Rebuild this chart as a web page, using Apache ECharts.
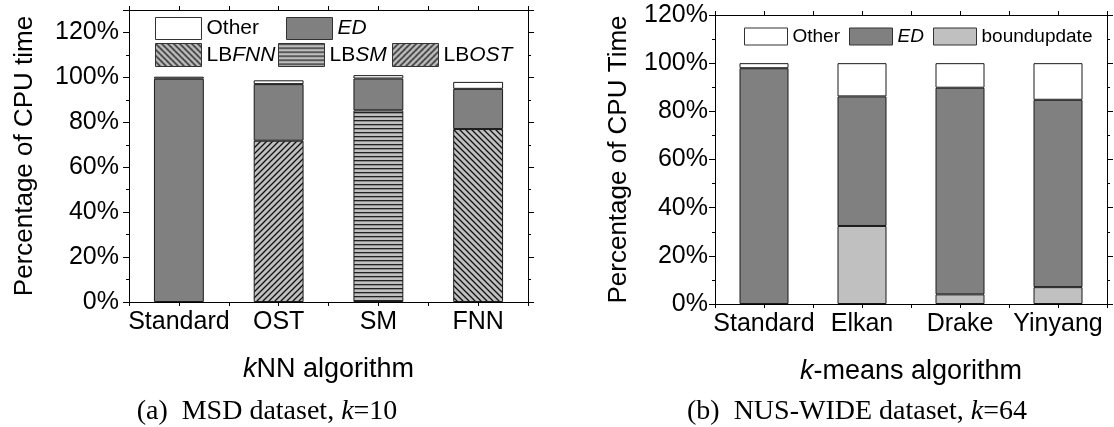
<!DOCTYPE html>
<html><head><meta charset="utf-8">
<script src="https://cdn.jsdelivr.net/npm/echarts@6/dist/echarts.min.js"></script>
<style>html,body{margin:0;padding:0;background:#fff}#c{width:1114px;height:427px}</style>
</head><body><div id="c"></div>
<script>
// ---------- data ----------
const knnCategories = ['Standard', 'OST', 'SM', 'FNN'];
const knnLbFnn = [null, null, null, 77.0];
const knnLbSm  = [null, null, 85.3, null];
const knnLbOst = [null, 71.8, null, null];
const knnEd    = [99.4, 25.2, 14.2, 17.9];
const knnOther = [0.9, 1.7, 1.5, 3.1];

const kmCategories = ['Standard', 'Elkan', 'Drake', 'Yinyang'];
const kmBound = [null, 32.4, 4.0, 7.0];
const kmEd    = [97.9, 53.8, 85.8, 77.8];
const kmOther = [2.1, 13.8, 10.2, 15.2];

const yTickFormat = '{value}%';

// ---------- styles ----------
const SANS = '"Liberation Sans", Arial, sans-serif';
const SERIF = '"Liberation Serif", "Times New Roman", serif';
const BLACK = '#000';

function makeTile(kind) {
  const c = document.createElement('canvas');
  const s = kind === 'h' ? 4 : 6;
  c.width = s; c.height = s;
  const g = c.getContext('2d');
  g.fillStyle = '#c0c0c0';
  g.fillRect(0, 0, s, s);
  g.strokeStyle = '#111';
  g.fillStyle = '#222';
  if (kind === 'h') {
    g.fillRect(0, 0, s, 1.3);
  } else {
    g.lineWidth = 1.3;
    g.beginPath();
    if (kind === 'f') { // '/'
      g.moveTo(-1, s + 1); g.lineTo(s + 1, -1);
      g.moveTo(-1, 1); g.lineTo(1, -1);
      g.moveTo(s - 1, s + 1); g.lineTo(s + 1, s - 1);
    } else { // '\'
      g.moveTo(-1, -1); g.lineTo(s + 1, s + 1);
      g.moveTo(s - 1, -1); g.lineTo(s + 1, 1);
      g.moveTo(-1, s - 1); g.lineTo(1, s + 1);
    }
    g.stroke();
  }
  return { image: c, repeat: 'repeat' };
}
const patOst = makeTile('f');
const patFnn = makeTile('b');
const patSm = makeTile('h');

const barBorder = { borderColor: '#1a1a1a', borderWidth: 1 };

function xAxes(gridIndex, cats, name) {
  const base = {
    type: 'category', gridIndex, data: cats,
    axisLine: { show: true, onZero: false, lineStyle: { color: BLACK, width: 1 } },
    axisTick: { show: true, length: 4, inside: false, interval: 0, lineStyle: { color: BLACK } },
    splitLine: { show: false }
  };
  return [
    Object.assign({}, base, {
      position: 'bottom',
      axisLabel: { show: true, interval: 0, fontSize: 25, fontFamily: SANS, color: BLACK, margin: 8 },
      name, nameLocation: 'middle', nameGap: 54,
      nameTextStyle: { fontSize: 27, fontFamily: SANS, color: BLACK,
        rich: { i: { fontSize: 27, fontFamily: SANS, fontStyle: 'italic', color: BLACK } } }
    }),
    Object.assign({}, base, { position: 'bottom', axisLine: { show: false, onZero: false },
      axisTick: { show: true, alignWithLabel: true, interval: 0, length: 4, lineStyle: { color: BLACK } }, axisLabel: { show: false } }),
    Object.assign({}, base, { position: 'top', axisLabel: { show: false } }),
    Object.assign({}, base, { position: 'top', axisLine: { show: false, onZero: false },
      axisTick: { show: true, alignWithLabel: true, interval: 0, length: 4, lineStyle: { color: BLACK } }, axisLabel: { show: false } })
  ];
}

function yAxes(gridIndex, max, name, nameGap, labelMargin) {
  const base = {
    type: 'value', gridIndex, min: 0, max, interval: 20,
    axisLine: { show: true, lineStyle: { color: BLACK, width: 1 } },
    axisTick: { show: true, length: 6, lineStyle: { color: BLACK } },
    minorTick: { show: true, splitNumber: 2, length: 3, lineStyle: { color: BLACK } },
    splitLine: { show: false }, minorSplitLine: { show: false }
  };
  return [
    Object.assign({}, base, {
      position: 'left',
      axisLabel: { show: true, formatter: yTickFormat, fontSize: 25, fontFamily: SANS, color: BLACK, margin: labelMargin, showMaxLabel: max % 20 === 0 },
      name, nameLocation: 'middle', nameGap,
      nameTextStyle: { fontSize: 26, fontFamily: SANS, color: BLACK }
    }),
    Object.assign({}, base, { position: 'right', axisLabel: { show: false } })
  ];
}

const legendText = {
  'Other': 'Other',
  'ED': '{i|ED}',
  'LBFNN': 'LB{i|FNN}',
  'LBSM': 'LB{i|SM}',
  'LBOST': 'LB{i|OST}',
  'boundupdate': 'boundupdate'
};
function legend(name, left, top, w, h, fs) {
  return {
    data: [name], left, top, padding: 0, itemWidth: w, itemHeight: h, icon: 'rect',
    selectedMode: false,
    formatter: n => legendText[n],
    itemStyle: { borderColor: '#333', borderWidth: 1 },
    textStyle: { fontSize: fs, fontFamily: SANS, color: BLACK,
      rich: { i: { fontSize: fs, fontFamily: SANS, fontStyle: 'italic', color: BLACK } } }
  };
}

function bar(name, data, color, xi, yi, stack) {
  return { type: 'bar', name, data, stack, xAxisIndex: xi, yAxisIndex: yi, barWidth: '50%',
    itemStyle: Object.assign({ color }, barBorder), emphasis: { disabled: true } };
}

const option = {
  animation: false,
  backgroundColor: '#fff',
  grid: [
    { left: 129, top: 10, width: 399, height: 292 },
    { left: 715, top: 15, width: 392, height: 289 }
  ],
  xAxis: [].concat(
    xAxes(0, knnCategories, '{i|k}NN algorithm'),
    xAxes(1, kmCategories, '{i|k}-means algorithm')
  ),
  yAxis: [].concat(
    yAxes(0, 130, 'Percentage of CPU time', 91, 10),
    yAxes(1, 120, 'Percentage of CPU Time', 83, 7)
  ),
  legend: [
    legend('Other', 155, 17, 46, 22, 21),
    legend('ED', 286, 17, 46, 22, 21),
    legend('LBFNN', 155, 43, 46, 23, 21),
    legend('LBSM', 278, 43, 46, 23, 21),
    legend('LBOST', 392, 43, 46, 23, 21),
    legend('Other', 744, 27, 43, 17, 19),
    legend('ED', 849, 27, 43, 17, 19),
    legend('boundupdate', 933, 27, 43, 17, 19)
  ],
  series: [
    bar('LBFNN', knnLbFnn, patFnn, 0, 0, 'knn'),
    bar('LBSM', knnLbSm, patSm, 0, 0, 'knn'),
    bar('LBOST', knnLbOst, patOst, 0, 0, 'knn'),
    bar('ED', knnEd, '#808080', 0, 0, 'knn'),
    bar('Other', knnOther, '#ffffff', 0, 0, 'knn'),
    bar('boundupdate', kmBound, '#c0c0c0', 4, 2, 'km'),
    bar('ED', kmEd, '#808080', 4, 2, 'km'),
    bar('Other', kmOther, '#ffffff', 4, 2, 'km')
  ],
  graphic: [
    { type: 'text', x: 267, y: 412, silent: true,
      style: { text: '(a)  MSD dataset, {i|k}=10', align: 'center', verticalAlign: 'middle',
        fontSize: 28, fontFamily: SERIF, fill: BLACK,
        rich: { i: { fontSize: 28, fontFamily: SERIF, fontStyle: 'italic', fill: BLACK } } } },
    { type: 'text', x: 857, y: 412, silent: true,
      style: { text: '(b)  NUS-WIDE dataset, {i|k}=64', align: 'center', verticalAlign: 'middle',
        fontSize: 28, fontFamily: SERIF, fill: BLACK,
        rich: { i: { fontSize: 28, fontFamily: SERIF, fontStyle: 'italic', fill: BLACK } } } }
  ]
};

const chart = echarts.init(document.getElementById('c'), null, { renderer: 'canvas' });
chart.setOption(option);
</script>
</body></html>
